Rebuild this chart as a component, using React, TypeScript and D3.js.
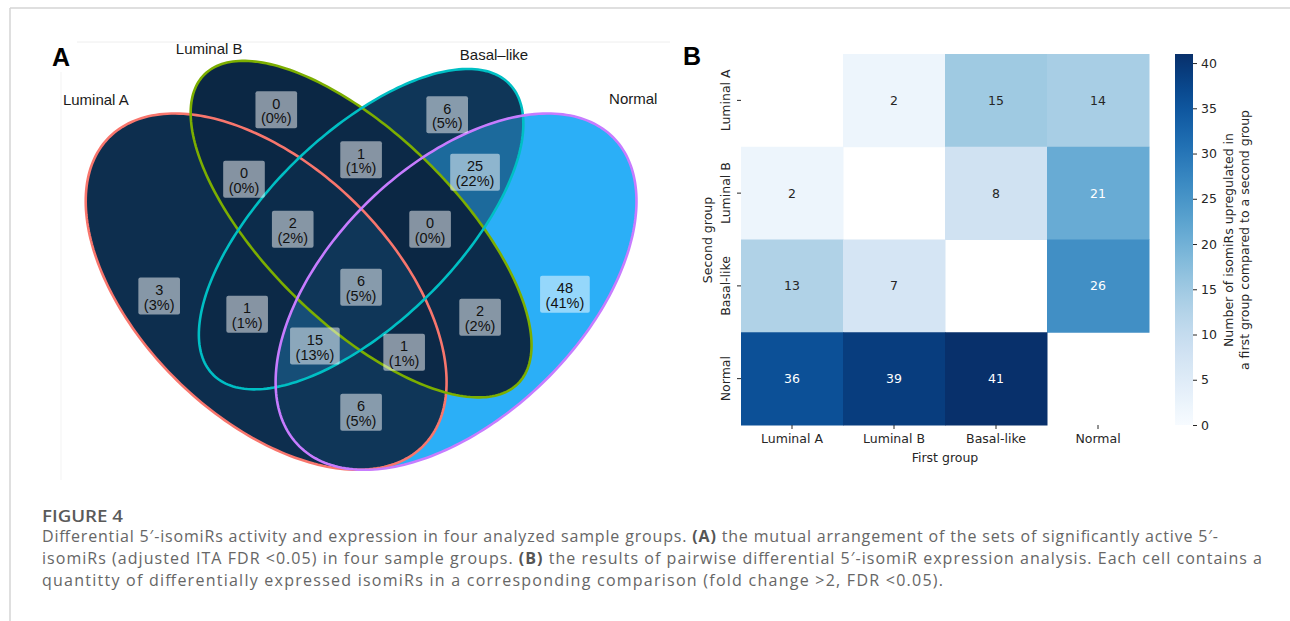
import React, { useEffect, useRef } from "react";
import * as d3 from "d3";

const W = 1290;
const H = 621;

// ---- panel A: Venn diagram ----
const setNames = ["Luminal A", "Luminal B", "Basal–like", "Normal"];
const setColors = ["#F8766D", "#7CAE00", "#00BFC4", "#C77CFF"];
// 4-set ellipse shape (unit coords, y up)
const ellipseX = [0.35, 0.5, 0.5, 0.65];
const ellipseY = [0.47, 0.57, 0.57, 0.47];
const ellipseA = [0.35, 0.35, 0.33, 0.35];
const ellipseB = [0.2, 0.15, 0.15, 0.2];
const ellipseRot = [135, 135, 45, 45];
const setLabelX = [0.081, 0.26, 0.71, 0.93];
const setLabelY = [0.777, 0.858, 0.849, 0.778];

// region = which sets (0..3) it belongs to
const regionSets = [[0], [1], [2], [3], [0, 1], [1, 2], [2, 3], [0, 1, 2], [1, 2, 3], [0, 1, 2, 3], [0, 2], [1, 3], [0, 2, 3], [0, 1, 3], [0, 3]];
const regionCounts = [3, 0, 6, 48, 0, 1, 25, 2, 0, 6, 1, 2, 15, 1, 6];
const regionLabelX = [0.181, 0.366, 0.636, 0.822, 0.315, 0.5, 0.68, 0.392, 0.609, 0.5, 0.32, 0.688, 0.427, 0.568, 0.5];
const regionLabelY = [0.463, 0.761, 0.753, 0.466, 0.65, 0.681, 0.661, 0.57, 0.57, 0.477, 0.434, 0.429, 0.383, 0.373, 0.277];

// ---- panel B: heatmap ----
const groups = ["Luminal A", "Luminal B", "Basal-like", "Normal"];
const rowLuminalA = [NaN, 2, 15, 14];
const rowLuminalB = [2, NaN, 8, 21];
const rowBasal = [13, 7, NaN, 26];
const rowNormal = [36, 39, 41, NaN];
const cbarTicks = [0, 5, 10, 15, 20, 25, 30, 35, 40];

const captionLines = [
  [["Differential 5′-isomiRs activity and expression in four analyzed sample groups. ", 0], ["(A)", 1], [" the mutual arrangement of the sets of significantly active 5′-", 0]],
  [["isomiRs (adjusted ITA FDR <0.05) in four sample groups. ", 0], ["(B)", 1], [" the results of pairwise differential 5′-isomiR expression analysis. Each cell contains a", 0]],
  [["quantitty of differentially expressed isomiRs in a corresponding comparison (fold change >2, FDR <0.05).", 0]],
];
const captionWidths = [1176, 1220, 901];

const sans = "'Liberation Sans', Arial, Helvetica, sans-serif";
const dejavu = "'DejaVu Sans', sans-serif";

function luminance(c: string) {
  const rgb = d3.rgb(c);
  const lin = (v: number) => {
    v /= 255;
    return v <= 0.03928 ? v / 12.92 : Math.pow((v + 0.055) / 1.055, 2.4);
  };
  return 0.2126 * lin(rgb.r) + 0.7152 * lin(rgb.g) + 0.0722 * lin(rgb.b);
}

export default function App() {
  const ref = useRef<SVGSVGElement>(null);

  useEffect(() => {
    if (!ref.current) return;
    document.body.style.margin = "0";
    const svg = d3.select(ref.current);
    svg.selectAll("*").remove();

    svg.append("rect").attr("width", W).attr("height", H).attr("fill", "#fff");

    // page frame
    svg.append("line").attr("x1", 10).attr("x2", W).attr("y1", 8).attr("y2", 8).attr("stroke", "#d4d4d4").attr("stroke-width", 1.5);
    svg.append("line").attr("x1", 10).attr("x2", 10).attr("y1", 8).attr("y2", H).attr("stroke", "#d4d4d4").attr("stroke-width", 1.5);
    // faint frame of the original image
    svg.append("line").attr("x1", 77).attr("x2", 670).attr("y1", 42).attr("y2", 42).attr("stroke", "#eeeeee");
    svg.append("line").attr("x1", 61).attr("x2", 61).attr("y1", 72).attr("y2", 480).attr("stroke", "#f3f3f3");

    // ========== Panel A ==========
    const vx = d3.scaleLinear().domain([0, 1]).range([44.6, 677.6]);
    const vy = d3.scaleLinear().domain([0, 1]).range([585.4, -39.6]);

    const ellipsePath = (i: number) => {
      const th = (ellipseRot[i] * Math.PI) / 180;
      const pts: [number, number][] = d3.range(240).map((k) => {
        const t = (k / 240) * 2 * Math.PI;
        const u = ellipseA[i] * Math.cos(t);
        const v = ellipseB[i] * Math.sin(t);
        const x = ellipseX[i] + u * Math.cos(th) - v * Math.sin(th);
        const y = ellipseY[i] + u * Math.sin(th) + v * Math.cos(th);
        return [vx(x), vy(y)];
      });
      return d3.line().curve(d3.curveLinearClosed)(pts) as string;
    };

    const defs = svg.append("defs");
    setNames.forEach((_, i) => {
      defs.append("clipPath").attr("id", `venn-clip-${i}`).append("path").attr("d", ellipsePath(i));
    });

    const maxCount = d3.max(regionCounts) as number;
    const total = d3.sum(regionCounts);
    const fillScale = d3
      .scaleLinear<string>()
      .domain([0, maxCount])
      .range(["#0B2744", "#2BAFF7"])
      .interpolate(d3.interpolateLab);

    const regionsG = svg.append("g");
    regionSets.forEach((sets, r) => {
      const excluded = [0, 1, 2, 3].filter((s) => !sets.includes(s));
      const mask = defs.append("mask").attr("id", `venn-mask-${r}`).attr("maskUnits", "userSpaceOnUse")
        .attr("x", 0).attr("y", 0).attr("width", W).attr("height", H);
      mask.append("rect").attr("width", W).attr("height", H).attr("fill", "#fff");
      excluded.forEach((s) => mask.append("path").attr("d", ellipsePath(s)).attr("fill", "#000"));

      let g = regionsG.append("g");
      sets.forEach((s) => {
        g = g.append("g").attr("clip-path", `url(#venn-clip-${s})`);
      });
      g.append("rect")
        .attr("x", 0).attr("y", 0).attr("width", 700).attr("height", 500)
        .attr("fill", fillScale(regionCounts[r]))
        .attr("mask", `url(#venn-mask-${r})`);
    });

    setNames.forEach((_, i) => {
      svg.append("path").attr("d", ellipsePath(i)).attr("fill", "none")
        .attr("stroke", setColors[i]).attr("stroke-width", 2.6);
    });

    // region labels
    regionCounts.forEach((c, r) => {
      const cx = vx(regionLabelX[r]);
      const cy = vy(regionLabelY[r]);
      const lg = svg.append("g");
      const box = lg.append("rect");
      const t = lg.append("text").attr("font-family", sans).attr("font-size", 14.5)
        .attr("fill", "#111").attr("text-anchor", "middle");
      t.append("tspan").attr("x", cx).attr("y", cy - 1).text(String(c));
      const t2 = t.append("tspan").attr("x", cx).attr("y", cy + 13.5).text(`(${Math.round((c / total) * 100)}%)`);
      const w = (t2.node() as SVGTSpanElement).getComputedTextLength() + 11;
      box.attr("x", cx - w / 2).attr("y", cy - 18.5).attr("width", w).attr("height", 37)
        .attr("rx", 2).attr("fill", "#fff").attr("fill-opacity", 0.5);
    });

    // set names
    setNames.forEach((n, i) => {
      svg.append("text").attr("x", vx(setLabelX[i])).attr("y", vy(setLabelY[i]) + 5)
        .attr("text-anchor", "middle").attr("font-family", sans).attr("font-size", 15)
        .attr("fill", "#1a1a1a").text(n);
    });

    svg.append("text").attr("x", 52).attr("y", 66).attr("font-family", sans)
      .attr("font-weight", "bold").attr("font-size", 25).attr("fill", "#000").text("A");

    // ========== Panel B ==========
    const matrix = [rowLuminalA, rowLuminalB, rowBasal, rowNormal];
    const x = d3.scaleBand<string>().domain(groups).range([741, 1149]);
    const y = d3.scaleBand<string>().domain(groups).range([54, 425]);
    const vmax = d3.max(matrix.flat().filter((v) => !isNaN(v))) as number;
    const color = d3.scaleSequential(d3.interpolateBlues).domain([0, vmax]);

    const hm = svg.append("g");
    matrix.forEach((row, ri) => {
      row.forEach((v, ci) => {
        if (isNaN(v)) return;
        const fill = color(v);
        hm.append("rect")
          .attr("x", x(groups[ci]) as number).attr("y", y(groups[ri]) as number)
          .attr("width", x.bandwidth() + 0.5).attr("height", y.bandwidth() + 0.5)
          .attr("fill", fill);
      });
    });
    matrix.forEach((row, ri) => {
      row.forEach((v, ci) => {
        if (isNaN(v)) return;
        const fill = color(v);
        hm.append("text")
          .attr("x", (x(groups[ci]) as number) + x.bandwidth() / 2)
          .attr("y", (y(groups[ri]) as number) + y.bandwidth() / 2)
          .attr("dy", "0.36em").attr("text-anchor", "middle")
          .attr("font-family", dejavu).attr("font-size", 12.5)
          .attr("fill", luminance(fill) > 0.408 ? "#262626" : "#ffffff")
          .text(String(v));
      });
    });

    // x axis
    const xAxis = svg.append("g").attr("transform", "translate(0,425)")
      .call(d3.axisBottom(x).tickSize(4).tickPadding(5));
    xAxis.select(".domain").remove();
    xAxis.selectAll(".tick line").attr("stroke", "#262626").attr("stroke-width", 1);
    xAxis.selectAll(".tick text").attr("font-family", dejavu).attr("font-size", 12.5).attr("fill", "#262626");

    // y axis with rotated labels
    const yAxis = svg.append("g").attr("transform", "translate(741,0)")
      .call(d3.axisLeft(y).tickSize(4).tickFormat(() => ""));
    yAxis.select(".domain").remove();
    yAxis.selectAll(".tick line").attr("stroke", "#262626").attr("stroke-width", 1);
    groups.forEach((gname) => {
      const cy = (y(gname) as number) + y.bandwidth() / 2;
      svg.append("text").attr("transform", `translate(730,${cy}) rotate(-90)`)
        .attr("text-anchor", "middle").attr("font-family", dejavu).attr("font-size", 12.5)
        .attr("fill", "#262626").text(gname);
    });

    svg.append("text").attr("x", 945).attr("y", 462).attr("text-anchor", "middle")
      .attr("font-family", dejavu).attr("font-size", 12.5).attr("fill", "#262626").text("First group");
    svg.append("text").attr("transform", "translate(712,240) rotate(-90)").attr("text-anchor", "middle")
      .attr("font-family", dejavu).attr("font-size", 12.5).attr("fill", "#262626").text("Second group");

    // colorbar
    const cb = d3.scaleLinear().domain([0, vmax]).range([425, 54]);
    const grad = defs.append("linearGradient").attr("id", "cbar-grad")
      .attr("x1", 0).attr("y1", 1).attr("x2", 0).attr("y2", 0);
    d3.range(0, 1.0001, 0.05).forEach((t) => {
      grad.append("stop").attr("offset", t).attr("stop-color", color(t * vmax));
    });
    svg.append("rect").attr("x", 1175).attr("y", 54).attr("width", 18).attr("height", 371)
      .attr("fill", "url(#cbar-grad)");
    const cAxis = svg.append("g").attr("transform", "translate(1193,0)")
      .call(d3.axisRight(cb).tickValues(cbarTicks).tickSize(4).tickPadding(4));
    cAxis.select(".domain").remove();
    cAxis.selectAll(".tick line").attr("stroke", "#262626");
    cAxis.selectAll(".tick text").attr("font-family", dejavu).attr("font-size", 12.5).attr("fill", "#262626");

    svg.append("text").attr("transform", "translate(1233,240) rotate(-90)").attr("text-anchor", "middle")
      .attr("font-family", dejavu).attr("font-size", 12.5).attr("fill", "#262626")
      .text("Number of isomiRs upregulated in");
    svg.append("text").attr("transform", "translate(1249,240) rotate(-90)").attr("text-anchor", "middle")
      .attr("font-family", dejavu).attr("font-size", 12.5).attr("fill", "#262626")
      .text("a first group compared to a second group");

    svg.append("text").attr("x", 683).attr("y", 65).attr("font-family", sans)
      .attr("font-weight", "bold").attr("font-size", 25).attr("fill", "#000").text("B");

    // ========== caption ==========
    svg.append("text").attr("x", 42).attr("y", 522).attr("font-family", "'Open Sans', sans-serif")
      .attr("font-size", 16).attr("font-weight", 600).attr("fill", "#5a5a5a")
      .attr("textLength", 81).attr("lengthAdjust", "spacingAndGlyphs").text("FIGURE 4");
    captionLines.forEach((parts, li) => {
      const t = svg.append("text").attr("x", 42).attr("y", 542 + li * 22)
        .attr("font-family", "'Open Sans', sans-serif").attr("font-size", 16).attr("fill", "#666")
        .attr("textLength", captionWidths[li]).attr("lengthAdjust", "spacing");
      parts.forEach(([s, b]) => {
        t.append("tspan").attr("font-weight", b ? 700 : 400).attr("fill", b ? "#555" : "#666").text(s as string);
      });
    });
  }, []);

  return <svg ref={ref} width={W} height={H} style={{ display: "block" }} />;
}
